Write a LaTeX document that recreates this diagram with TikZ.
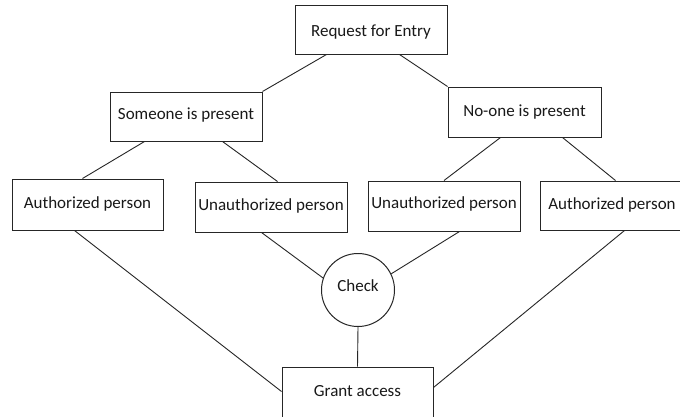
\documentclass[tikz,border=0pt]{standalone}
\usepackage{fontspec}
\setmainfont{Carlito}
\usetikzlibrary{calc}
\newcommand{\placetxt}[2]{\raisebox{#1}[0pt][0pt]{#2}}
\begin{document}
\begin{tikzpicture}[x=1pt,y=-1pt,
  box/.style={draw=black!85,line width=1pt,rectangle,inner sep=0pt,fill=white,
    font=\fontsize{17}{20}\selectfont,text=black!90},
  conn/.style={draw=black!85,line width=0.9pt}]
\useasboundingbox[fill=white] (0,0) rectangle (680,416);
\node[box,minimum width=152,minimum height=49] (req) at (371,29.5) {\placetxt{-7pt}{Request for Entry}};
\node[box,minimum width=152,minimum height=49] (some) at (186,116.5) {\placetxt{-3pt}{Someone is present}};
\node[box,minimum width=153,minimum height=50] (none) at (524.5,112) {\placetxt{-4.5pt}{No-one is present}};
\node[box,minimum width=151,minimum height=51] (authL) at (87.5,204.5) {\placetxt{-3.5pt}{Authorized person}};
\node[box,minimum width=152,minimum height=50] (unauthL) at (271,207) {\placetxt{-3pt}{Unauthorized person}};
\node[box,minimum width=152,minimum height=50] (unauthR) at (444,206) {\placetxt{-2.5pt}{Unauthorized person}};
\node[box,minimum width=144,minimum height=49] (authR) at (612,205.5) {\placetxt{-4pt}{Authorized person}};
\node[box,circle,minimum size=73] (check) at (358,290) {\placetxt{-1.5pt}{Check}};
\node[box,minimum width=151,minimum height=56] (grant) at (357.5,395) {\placetxt{-1.5pt}{Grant access}};
\draw[conn] ($(req.south west)+(32,0)$) -- (some.north east);
\draw[conn] ($(req.south west)+(105,0)$) -- (none.north west);
\draw[conn] ($(some.south west)+(35,0)$) -- ($(authL.north west)+(71,0)$);
\draw[conn] ($(some.south west)+(113,0)$) -- ($(unauthL.north west)+(83,0)$);
\draw[conn] ($(none.south west)+(53,0)$) -- (unauthR.north);
\draw[conn] ($(none.south west)+(115,0)$) -- ($(authR.north west)+(76,0)$);
\draw[conn] ($(authL.south west)+(63,0)$) -- ($(grant.north west)+(0,25)$);
\draw[conn] ($(unauthL.south west)+(67,0)$) -- (check.161);
\draw[conn] ($(unauthR.south west)+(92,0)$) -- (check.26);
\draw[conn] (check.south) -- (grant.north);
\draw[conn] ($(authR.south west)+(85,0)$) -- ($(grant.north east)+(0,21)$);
\end{tikzpicture}
\end{document}
